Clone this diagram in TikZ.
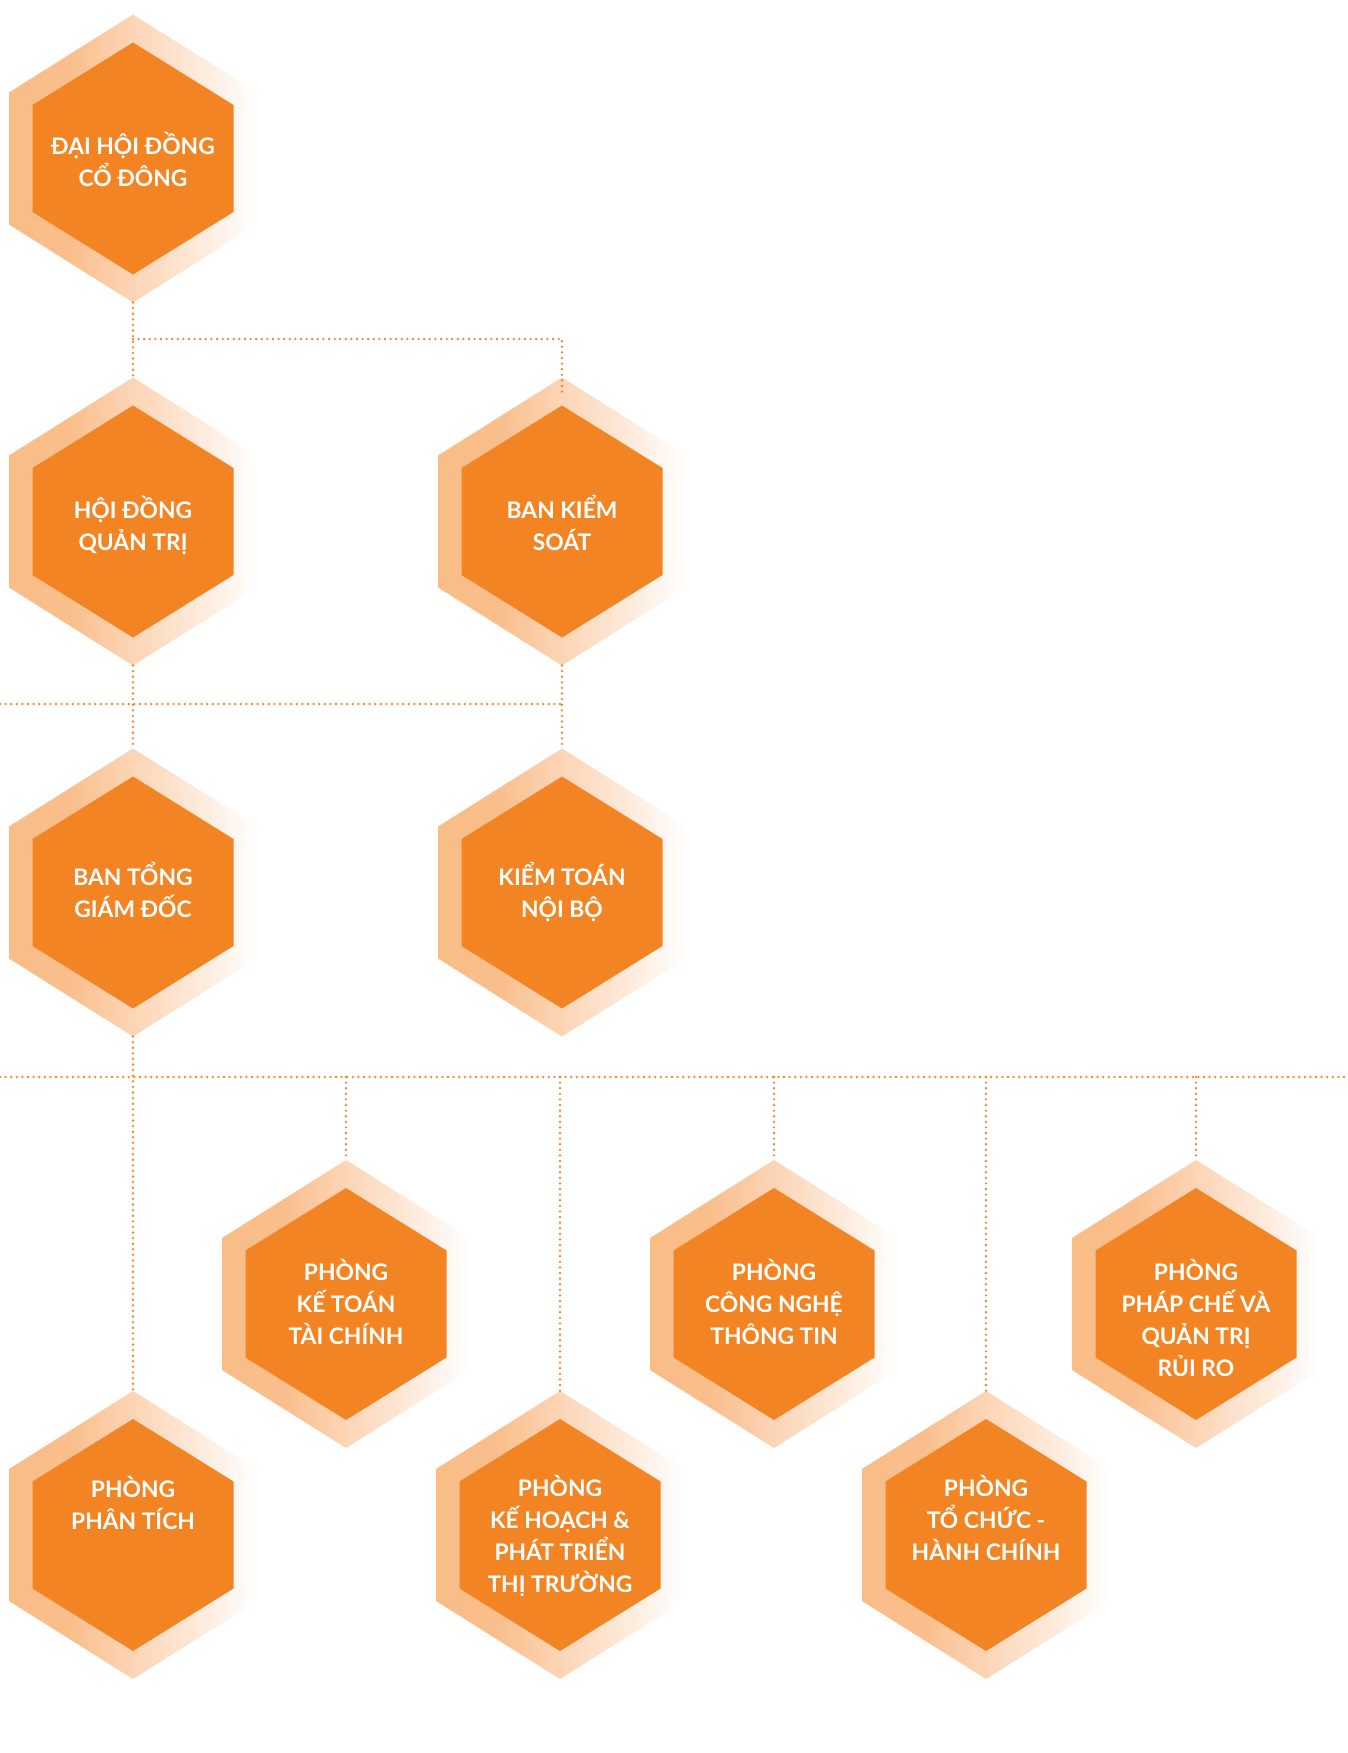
\documentclass[tikz,border=0pt]{standalone}
\usepackage{fontspec}
\setmainfont{Lato}
\usetikzlibrary{calc}
\definecolor{hexin}{RGB}{243,132,35}
\definecolor{dotc}{RGB}{242,133,40}
\pgfdeclarehorizontalshading{hexfade}{100bp}{%
  rgb(0bp)=(0.976,0.741,0.533); rgb(25bp)=(0.976,0.741,0.533);
  rgb(37bp)=(0.976,0.745,0.545); rgb(50bp)=(0.988,0.835,0.714);
  rgb(62bp)=(0.992,0.910,0.843); rgb(75bp)=(1,1,1); rgb(100bp)=(1,1,1)}
\newcommand\hstrut{\rule[-3.5pt]{0pt}{15.2pt}}
\tikzset{
  hextext/.style={text=white, align=center, inner sep=0pt,
    font=\fontsize{11.4}{16}\selectfont\bfseries},
  dotline/.style={draw=dotc, line width=1.3pt, line cap=round,
    dash pattern=on 0pt off 2.8pt}
}
% name, x, y, text offset, text
\newcommand\hexbox[5]{%
  \path[shading=hexfade] (#2,#3-144) -- ++(124,78) -- ++(0,132) -- ++(-124,78)
    -- ++(-124,-78) -- ++(0,-132) -- cycle;
  \fill[hexin] (#2,#3-116) -- ++(100.5,62.5) -- ++(0,107) -- ++(-100.5,62.5)
    -- ++(-100.5,-62.5) -- ++(0,-107) -- cycle;
  \node[hextext] (#1) at (#2,#3+#4) {#5};
  \coordinate (#1-t) at (#2,#3-144);
  \coordinate (#1-b) at (#2,#3+144);
}
\begin{document}
\begin{tikzpicture}[x=0.5pt,y=-0.5pt]
\useasboundingbox (0,0) rectangle (1348,1753);
\fill[white] (0,0) rectangle (1348,1753);
% hexagons
\hexbox{dh}{133}{158.5}{3.5}{\hstrut ĐẠI HỘI ĐỒNG\\\hstrut CỔ ĐÔNG}
\hexbox{hdqt}{133}{521.5}{5}{\hstrut HỘI ĐỒNG\\\hstrut QUẢN TRỊ}
\hexbox{bks}{562}{521.5}{5}{\hstrut BAN KIỂM\\\hstrut SOÁT}
\hexbox{tgd}{133}{892.5}{0.5}{\hstrut BAN TỔNG\\\hstrut GIÁM ĐỐC}
\hexbox{ktnb}{562}{892.5}{0.5}{\hstrut KIỂM TOÁN\\\hstrut NỘI BỘ}
\hexbox{kt}{346}{1304}{0}{\hstrut PHÒNG\\\hstrut KẾ TOÁN\\\hstrut TÀI CHÍNH}
\hexbox{cntt}{774}{1304}{0}{\hstrut PHÒNG\\\hstrut CÔNG NGHỆ\\\hstrut THÔNG TIN}
\hexbox{pc}{1196}{1304}{16.5}{\hstrut PHÒNG\\\hstrut PHÁP CHẾ VÀ\\\hstrut QUẢN TRỊ\\\hstrut RỦI RO}
\hexbox{pt}{133}{1535}{-30}{\hstrut PHÒNG\\\hstrut PHÂN TÍCH}
\hexbox{khpt}{560}{1535}{1.5}{\hstrut PHÒNG\\\hstrut KẾ HOẠCH \&\\\hstrut PHÁT TRIỂN\\\hstrut THỊ TRƯỜNG}
\hexbox{tc}{986}{1535}{-14.5}{\hstrut PHÒNG\\\hstrut TỔ CHỨC -\\\hstrut HÀNH CHÍNH}
% bus coordinates
\coordinate (bus1) at (0,339);
\coordinate (bus2L) at (0,704);
\coordinate (bus3L) at (0,1077);
\coordinate (bus3R) at (1348,1077);
\coordinate (bksin) at (562,393);
% connectors
\draw[dotline] (dh-b) -- (hdqt-t);
\draw[dotline] (dh-b |- bus1) -- (bks-t |- bus1) -- (bksin);
\draw[dotline] (hdqt-b) -- (tgd-t);
\draw[dotline] (bks-b) -- (ktnb-t);
\draw[dotline] (bus2L) -- (bks-b |- bus2L);
\draw[dotline] (tgd-b) -- (pt-t);
\draw[dotline] (bus3L) -- (bus3R);
\draw[dotline] (kt-t |- bus3L) -- (kt-t);
\draw[dotline] (khpt-t |- bus3L) -- (khpt-t);
\draw[dotline] (cntt-t |- bus3L) -- (cntt-t);
\draw[dotline] (tc-t |- bus3L) -- (tc-t);
\draw[dotline] (pc-t |- bus3L) -- (pc-t);
\end{tikzpicture}
\end{document}
